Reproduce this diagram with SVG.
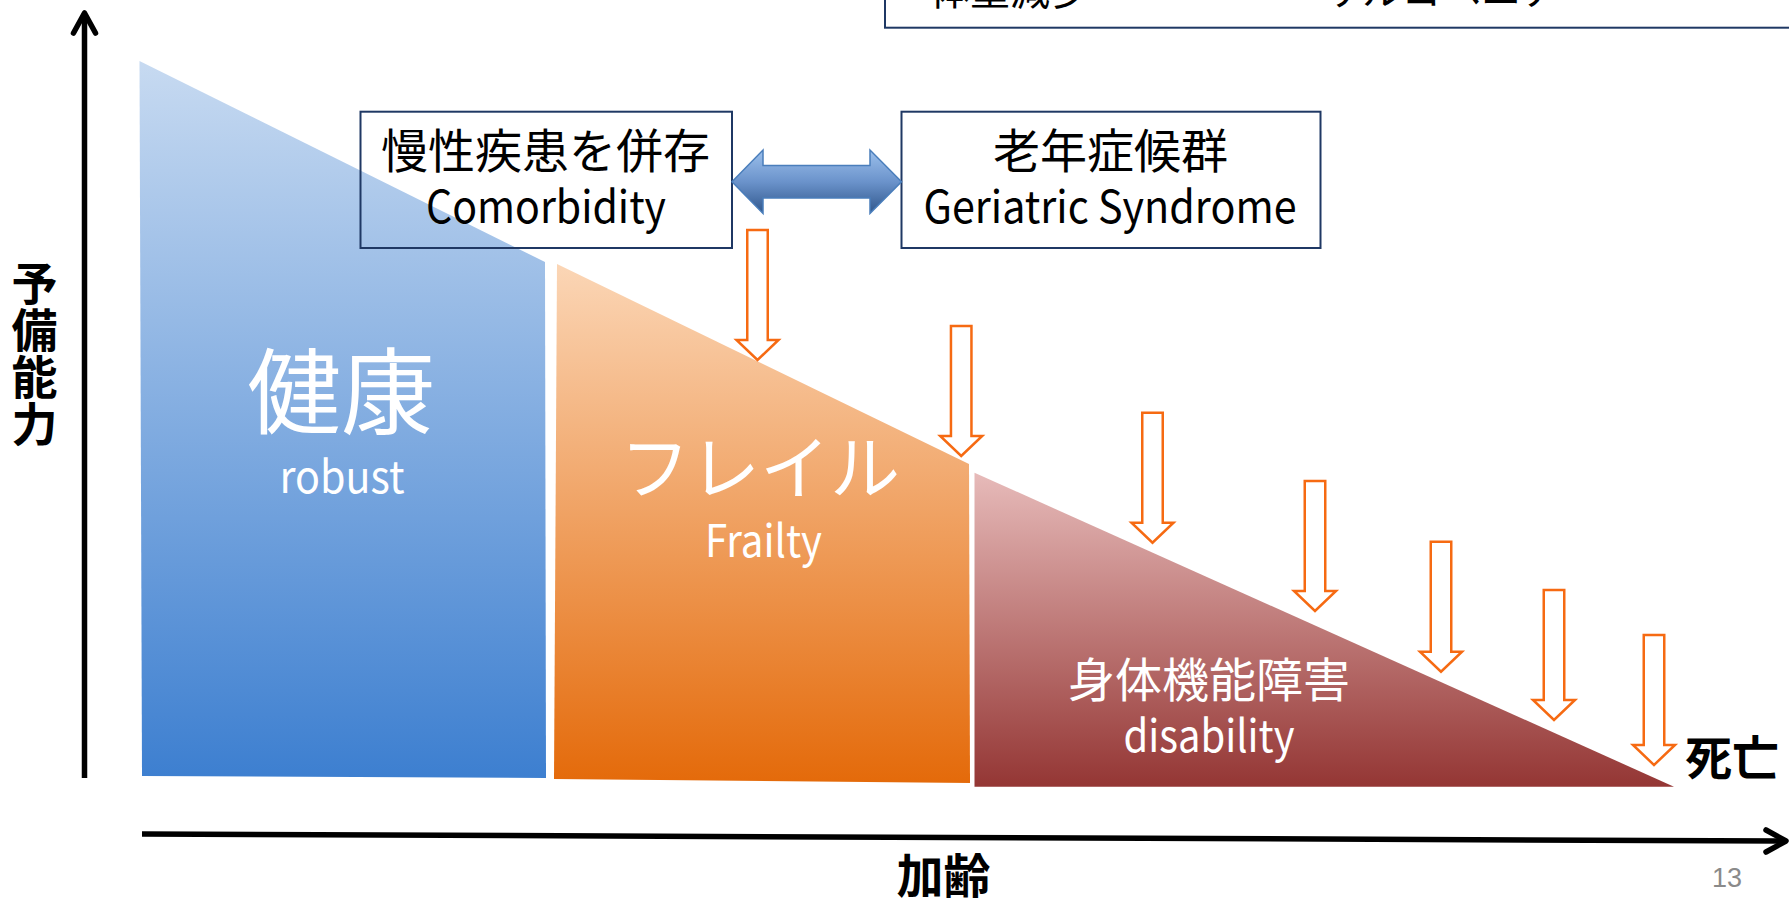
<svg xmlns="http://www.w3.org/2000/svg" xmlns:xlink="http://www.w3.org/1999/xlink" width="1789" height="899" viewBox="0 0 1789 899">
<style>
.jp{font-family:"Noto Sans CJK JP","Noto Sans CJK SC",sans-serif;}
.en{font-family:"Noto Sans CJK JP","Liberation Sans",sans-serif;}
.blk{fill:#000;}
.wht{fill:#fff;}
.box{fill:none;stroke:#1f3864;stroke-width:2;}
.ax{fill:none;stroke:#000;stroke-width:5.5;stroke-linecap:butt;}
.axh{fill:none;stroke:#000;stroke-width:5.5;stroke-linecap:round;stroke-linejoin:round;}
.dn{fill:#fff;stroke:#f66a12;stroke-width:2.5;}
</style>
<defs>
<linearGradient id="gB" gradientUnits="userSpaceOnUse" x1="0" y1="61" x2="0" y2="778">
<stop offset="0" stop-color="#c7daf1"/><stop offset="1" stop-color="#3d7fd0"/>
</linearGradient>
<linearGradient id="gO" gradientUnits="userSpaceOnUse" x1="0" y1="264" x2="0" y2="783">
<stop offset="0" stop-color="#fbd6b6"/><stop offset="1" stop-color="#e46a0a"/>
</linearGradient>
<linearGradient id="gR" gradientUnits="userSpaceOnUse" x1="0" y1="472" x2="0" y2="787">
<stop offset="0" stop-color="#e7bbba"/><stop offset="1" stop-color="#943634"/>
</linearGradient>
<linearGradient id="gA" x1="0" y1="0" x2="0" y2="1">
<stop offset="0" stop-color="#9cc0ec"/><stop offset="0.5" stop-color="#6b93cb"/><stop offset="1" stop-color="#30578c"/>
</linearGradient>
<path id="dnArrow" class="dn" d="M-10.25,0 H10.25 V110 H21 L0,130 L-21,110 H-10.25 Z"/>
</defs>

<g id="stage-robust">
<polygon points="139.5,61 545,262 546,778 142,776" fill="url(#gB)"/>
<text class="jp wht" x="341" y="427" font-size="94" text-anchor="middle">健康</text>
<text class="en wht" x="342" y="493" font-size="45" text-anchor="middle" textLength="125" lengthAdjust="spacingAndGlyphs">robust</text>
</g>

<g id="stage-frailty">
<polygon points="557,264 969,464 970,783 554,779" fill="url(#gO)"/>
<text class="jp wht" x="760" y="494" font-size="70" text-anchor="middle">フレイル</text>
<text class="en wht" x="763.5" y="557" font-size="45" text-anchor="middle" textLength="117" lengthAdjust="spacingAndGlyphs">Frailty</text>
</g>

<g id="stage-disability">
<polygon points="974.5,472.7 1674,786.7 974.5,786.7" fill="url(#gR)"/>
<text class="jp wht" x="1209" y="697" font-size="47" text-anchor="middle">身体機能障害</text>
<text class="en wht" x="1209" y="752" font-size="45" text-anchor="middle" textLength="171" lengthAdjust="spacingAndGlyphs">disability</text>
</g>

<g id="box-top">
<rect class="box" x="885" y="-30" width="1000" height="57.7"/>
<text class="jp blk" x="930" y="5" font-size="40">体重減少</text>
<text class="jp blk" x="1322" y="5" font-size="40">サルコペニア</text>
</g>

<g id="box-comorbidity">
<rect class="box" x="360.5" y="111.7" width="371.5" height="136.3"/>
<text class="jp blk" x="545.5" y="168" font-size="47" text-anchor="middle">慢性疾患を併存</text>
<text class="en blk" x="546" y="223" font-size="45" text-anchor="middle" textLength="240" lengthAdjust="spacingAndGlyphs">Comorbidity</text>
</g>

<g id="box-geriatric">
<rect class="box" x="901.5" y="111.7" width="419" height="136.3"/>
<text class="jp blk" x="1110.5" y="168" font-size="47" text-anchor="middle">老年症候群</text>
<text class="en blk" x="1110" y="223" font-size="45" text-anchor="middle" textLength="373" lengthAdjust="spacingAndGlyphs">Geriatric Syndrome</text>
</g>

<g id="label-death">
<text class="jp blk" x="1732" y="775" font-size="47" font-weight="bold" text-anchor="middle">死亡</text>
</g>

<g id="label-yaxis">
<text class="jp blk" x="34.5" y="260" font-size="46" font-weight="bold" writing-mode="vertical-rl" letter-spacing="1">予備能力</text>
</g>

<g id="label-xaxis">
<text class="jp blk" x="943.5" y="893" font-size="47" font-weight="bold" text-anchor="middle">加齢</text>
</g>

<g id="page-number">
<text x="1727" y="886.5" font-size="27" fill="#8a8a8a" font-family="Liberation Sans, sans-serif" text-anchor="middle">13</text>
</g>

<g id="connectors">
<line class="ax" x1="84.5" y1="778" x2="84.5" y2="15"/>
<polyline class="axh" points="73.5,33 84.5,13 95.5,33"/>
<line class="ax" x1="142" y1="834" x2="1784" y2="841"/>
<polyline class="axh" points="1766,830 1786,841 1766,852"/>
<path d="M732,181.7 L763,150 V165.5 H870 V150 L901.5,181.7 L870,213.4 V198 H763 V213.4 Z" fill="url(#gA)" stroke="#4a7ebb" stroke-width="1.5" stroke-linejoin="miter"/>
<use href="#dnArrow" transform="translate(757.5,230)"/>
<use href="#dnArrow" transform="translate(961.2,326)"/>
<use href="#dnArrow" transform="translate(1152.5,412.7)"/>
<use href="#dnArrow" transform="translate(1315,481)"/>
<use href="#dnArrow" transform="translate(1441,541.7)"/>
<use href="#dnArrow" transform="translate(1554,590)"/>
<use href="#dnArrow" transform="translate(1654,635)"/>
</g>
</svg>
